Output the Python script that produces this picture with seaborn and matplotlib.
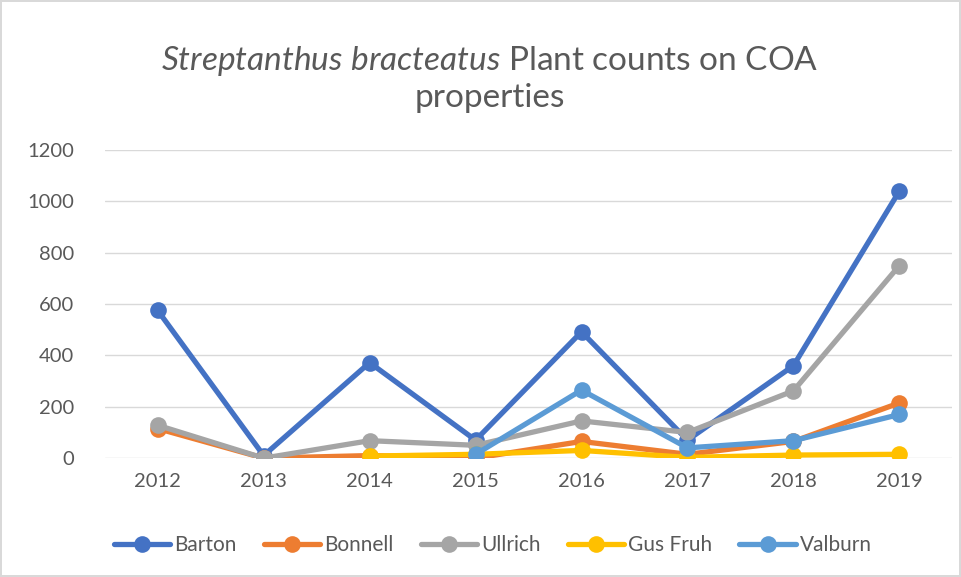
import pandas as pd
import numpy as np
import matplotlib
matplotlib.use('Agg')
import matplotlib.pyplot as plt
import seaborn as sns

years = [2012, 2013, 2014, 2015, 2016, 2017, 2018, 2019]
barton = [575, 10, 372, 70, 492, 70, 360, 1040]
bonnell = [115, 0, 10, 0, 65, 15, 65, 215]
ullrich = [128, 0, 68, 50, 145, 100, 262, 750]
gus_fruh = [np.nan, np.nan, 8, 15, 30, 3, 12, 15]
valburn = [np.nan, np.nan, np.nan, 15, 265, 40, 68, 170]

sites = ['Barton', 'Bonnell', 'Ullrich', 'Gus Fruh', 'Valburn']
colors = ['#4472C4', '#ED7D31', '#A5A5A5', '#FFC000', '#5B9BD5']

df = pd.DataFrame({'Year': years, 'Barton': barton, 'Bonnell': bonnell,
                   'Ullrich': ullrich, 'Gus Fruh': gus_fruh, 'Valburn': valburn})
long = df.melt(id_vars='Year', var_name='Site', value_name='Count').dropna()

sns.set_style('white')
plt.rcParams['font.family'] = ['Lato', 'DejaVu Sans']
plt.rcParams['mathtext.fontset'] = 'custom'
plt.rcParams['mathtext.it'] = 'Lato:italic'
plt.rcParams['mathtext.rm'] = 'Lato'

fig = plt.figure(figsize=(9.61, 5.77), dpi=100, edgecolor='#d9d9d9', linewidth=1.5)
ax = fig.add_axes([0.109, 0.206, 0.882, 0.534])

sns.lineplot(data=long, x='Year', y='Count', hue='Site', hue_order=sites,
             palette=colors, marker='o', markersize=12, linewidth=3.8,
             markeredgewidth=0, ax=ax, legend=True)

ax.set_xlim(2011.5, 2019.5)
ax.set_ylim(0, 1200)
ax.set_xticks(years)
ax.set_xticklabels([str(y) for y in years])
ax.set_yticks(range(0, 1201, 200))
ax.grid(axis='y', color='#d9d9d9', linewidth=1)
ax.set_axisbelow(True)
for s in ax.spines.values():
    s.set_visible(False)
ax.tick_params(axis='both', labelsize=14.5, colors='#595959', length=0)
ax.tick_params(axis='x', pad=11)
ax.tick_params(axis='y', pad=22)
ax.set_xlabel('')
ax.set_ylabel('')

ax.legend(loc='upper center', bbox_to_anchor=(0.458, -0.19), ncol=5, frameon=False,
          fontsize=15, labelcolor='#595959', handlelength=2.7, handletextpad=0.2,
          columnspacing=1.3)

fig.text(0.51, 0.895, r'$\it{Streptanthus\ bracteatus}$ Plant counts on COA',
         ha='center', va='center', fontsize=24, color='#595959')
fig.text(0.51, 0.83, 'properties', ha='center', va='center', fontsize=24, color='#595959')

plt.savefig('out.png', dpi=100, edgecolor=fig.get_edgecolor())
